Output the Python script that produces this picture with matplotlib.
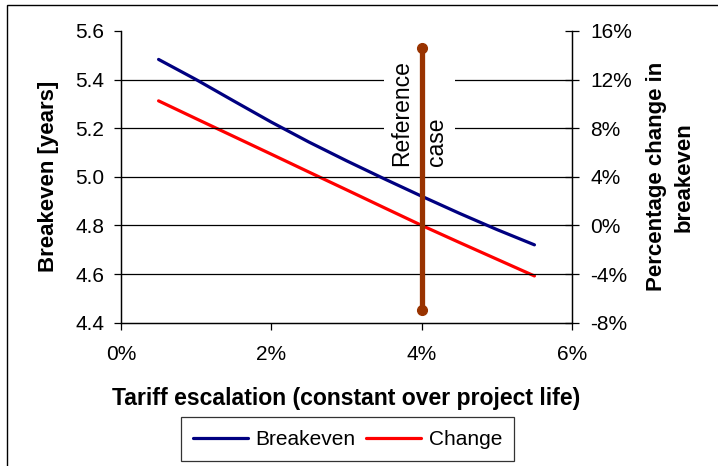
import matplotlib
matplotlib.use("Agg")
import matplotlib.pyplot as plt
from matplotlib.patches import Rectangle
from matplotlib.ticker import FuncFormatter

plt.rcParams["font.family"] = ["Liberation Sans", "DejaVu Sans"]
plt.rcParams["font.size"] = 15

# data
escalation = [0.5, 1.0, 1.5, 2.0, 2.5, 3.0, 3.5, 4.0, 4.5, 5.0, 5.5]      # % per year
breakeven = [5.483, 5.400, 5.312, 5.225, 5.143, 5.066, 4.992, 4.920, 4.850, 4.783, 4.720]  # years
change = [10.25, 8.78, 7.32, 5.86, 4.39, 2.93, 1.46, 0.0, -1.40, -2.78, -4.16]  # % change
ref_x = [4.0, 4.0]
ref_y = [4.45, 5.53]

NAVY, RED, BROWN = "#000080", "#FF0000", "#993300"

fig = plt.figure(figsize=(7.18, 4.66), dpi=100)
ax = fig.add_axes([0.1685, 0.3077, 0.6282, 0.6258])
ax2 = ax.twinx()
ax.set_zorder(ax2.get_zorder() + 1)
ax.patch.set_visible(False)

ln_c, = ax2.plot(escalation, change, color=RED, lw=2.3, solid_capstyle="round", label="Change")
ln_b, = ax.plot(escalation, breakeven, color=NAVY, lw=2.3, solid_capstyle="round", label="Breakeven")

# rotated annotation sits on a white box that hides the gridlines behind it
ax.text(3.97, 5.045, "Reference\ncase", rotation=90, ha="center", va="bottom",
        multialignment="left", linespacing=1.65, fontsize=16.5, zorder=3,
        bbox=dict(fc="white", ec="none", pad=5))
ax.plot(ref_x, ref_y, color=BROWN, lw=3.8, marker="o", ms=7, zorder=4)

ax.set_xlim(0, 6)
ax.set_ylim(4.4, 5.6)
ax2.set_ylim(-8, 16)
ax.set_xticks([0, 2, 4, 6])
ax.set_yticks([4.4, 4.6, 4.8, 5.0, 5.2, 5.4, 5.6])
ax2.set_yticks(range(-8, 17, 4))
ax.xaxis.set_major_formatter(FuncFormatter(lambda v, p: f"{v:.0f}%"))
ax.yaxis.set_major_formatter(FuncFormatter(lambda v, p: f"{v:.1f}"))
ax2.yaxis.set_major_formatter(FuncFormatter(lambda v, p: f"{v:.0f}%"))

for g in [4.6, 4.8, 5.0, 5.2, 5.4]:
    ax.axhline(g, color="black", lw=0.9, zorder=1)

for a in (ax, ax2):
    a.spines["top"].set_visible(False)
    for s in a.spines.values():
        s.set_color("black")
        s.set_linewidth(0.9)
ax.tick_params(axis="y", direction="out", length=5, width=0.9, pad=7, labelsize=15)
ax.tick_params(axis="x", direction="out", length=5, width=0.9, pad=11, labelsize=15)
ax2.tick_params(axis="y", direction="inout", length=10, width=0.9, pad=8, labelsize=15)

ax.set_xlabel("Tariff escalation (constant over project life)", fontweight="bold",
              fontsize=16.6, labelpad=17)
ax.set_ylabel("Breakeven [years]", fontweight="bold", fontsize=16, labelpad=12)
ax2.set_ylabel("Percentage change in\nbreakeven", fontweight="bold", fontsize=16,
               rotation=90, labelpad=10, linespacing=1.45)

leg = fig.legend([ln_b, ln_c], ["Breakeven", "Change"], ncol=2, loc="center",
                 bbox_to_anchor=(0.484, 0.057), frameon=True, fancybox=False,
                 handlelength=2.65, handletextpad=0.35, columnspacing=0.5,
                 borderpad=0.6, fontsize=15)
leg.get_frame().set_edgecolor("black")
leg.get_frame().set_linewidth(0.9)

fig.patches.append(Rectangle((7 / 718, -0.1), 2, (461 / 466) + 0.1, transform=fig.transFigure,
                             fill=False, ec="black", lw=1.0))

fig.savefig("out.png", dpi=100)
